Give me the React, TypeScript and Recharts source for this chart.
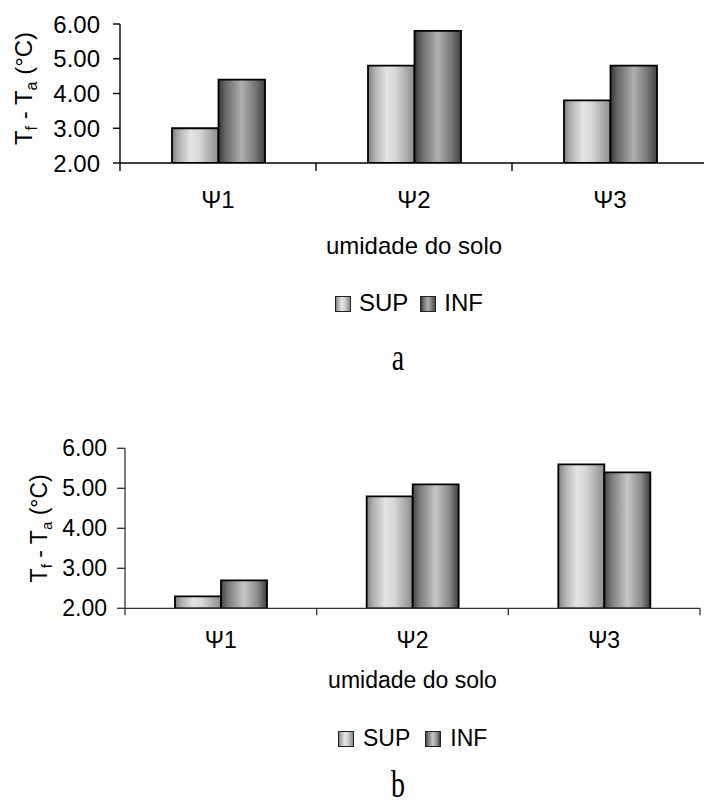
import React from 'react';
import { BarChart, Bar, XAxis, YAxis, Legend } from 'recharts';

const categories = ['Ψ1', 'Ψ2', 'Ψ3'];
const supA = [3.0, 4.8, 3.8];
const infA = [4.4, 5.8, 4.8];
const supB = [2.3, 4.8, 5.6];
const infB = [2.7, 5.1, 5.4];
const yTicks = [2, 3, 4, 5, 6];
const seriesNames = ['SUP', 'INF'];
const xAxisTitle = 'umidade do solo';
const panelLabels = ['a', 'b'];

const SANS = 'Arial, "Liberation Sans", Helvetica, sans-serif';
const SERIF = '"Times New Roman", "Liberation Serif", Times, serif';

type Row = { cat: string; SUP: number; INF: number };
const build = (sup: number[], inf: number[]): Row[] =>
  categories.map((c, i) => ({ cat: c, [seriesNames[0]]: sup[i], [seriesNames[1]]: inf[i] } as Row));

const dataA = build(supA, infA);
const dataB = build(supB, infB);

type Stop = [number, string];

type Cfg = {
  id: string;
  data: Row[];
  top: number;
  width: number;
  height: number;
  marginTop: number;
  marginRight: number;
  yAxisWidth: number;
  xAxisHeight: number;
  fontSize: number;
  axisColor: string;
  axisWidth: number;
  yTickLen: number;
  yLabelRight: number;
  xTickLen: number;
  catBaseline: number;
  titleBaseline: number;
  legendLeft: number;
  legendTop: number;
  legendItemGap: number;
  swatchGap: number;
  yLabelBaselineX: number;
  yLabelShift: number;
  barSize: number;
  barStroke: number;
  supStops: Stop[];
  infStops: Stop[];
  panelLabel: string;
  panelLabelY: number;
};

const supStopsA: Stop[] = [[0, '#7c7c7c'], [0.12, '#aaaaaa'], [0.4, '#e4e4e4'], [0.6, '#d6d6d6'], [1, '#8c8c8c']];
const infStopsA: Stop[] = [[0, '#383838'], [0.15, '#686868'], [0.5, '#afafaf'], [0.8, '#747474'], [1, '#424242']];
const supStopsB: Stop[] = [[0, '#7c7c7c'], [0.12, '#aaaaaa'], [0.4, '#e4e4e4'], [0.6, '#d6d6d6'], [1, '#8c8c8c']];
const infStopsB: Stop[] = [[0, '#444444'], [0.15, '#7a7a7a'], [0.5, '#c6c6c6'], [0.8, '#8a8a8a'], [1, '#3c3c3c']];

const cfgA: Cfg = {
  id: 'a', data: dataA, top: 0, width: 720, height: 330, marginTop: 24, marginRight: 12,
  yAxisWidth: 120, xAxisHeight: 167, fontSize: 24, axisColor: '#000', axisWidth: 1.4,
  yTickLen: 7, yLabelRight: 100, xTickLen: 8, catBaseline: 45, titleBaseline: 91,
  legendLeft: 335, legendTop: 291, legendItemGap: 12, swatchGap: 8,
  yLabelBaselineX: 32, yLabelShift: -5, barSize: 46.5, barStroke: 1.8,
  supStops: supStopsA, infStops: infStopsA, panelLabel: panelLabels[0], panelLabelY: 370,
};

const cfgB: Cfg = {
  id: 'b', data: dataB, top: 420, width: 712, height: 380, marginTop: 28.3, marginRight: 12,
  yAxisWidth: 125, xAxisHeight: 191.7, fontSize: 23, axisColor: '#333', axisWidth: 1.3,
  yTickLen: 8, yLabelRight: 107, xTickLen: 7, catBaseline: 40, titleBaseline: 80,
  legendLeft: 338, legendTop: 306.5, legendItemGap: 15, swatchGap: 9,
  yLabelBaselineX: 47, yLabelShift: 0, barSize: 46, barStroke: 1.8,
  supStops: supStopsB, infStops: infStopsB, panelLabel: panelLabels[1], panelLabelY: 797,
};

const cssGradient = (stops: Stop[]) =>
  `linear-gradient(to right, ${stops.map(([o, c]) => `${c} ${o * 100}%`).join(', ')})`;

const Panel = ({ cfg }: { cfg: Cfg }) => {
  const plotWidth = cfg.width - cfg.marginRight - cfg.yAxisWidth;
  const band = plotWidth / categories.length;
  const half = band / 2;
  const stopsFor = [cfg.supStops, cfg.infStops];

  const CatTick = (props: any) => {
    const { x, y, payload, index } = props;
    return (
      <g>
        {index === 0 && (
          <line x1={x - half} x2={x - half} y1={y} y2={y + cfg.xTickLen} stroke={cfg.axisColor} strokeWidth={cfg.axisWidth} />
        )}
        <line x1={x + half} x2={x + half} y1={y} y2={y + cfg.xTickLen} stroke={cfg.axisColor} strokeWidth={cfg.axisWidth} />
        <text x={x} y={y + cfg.catBaseline} textAnchor="middle" fill="#000" fontSize={cfg.fontSize} fontFamily={SANS}>
          {payload.value}
        </text>
      </g>
    );
  };

  const ValTick = (props: any) => {
    const { x, y, payload } = props;
    return (
      <g>
        <line x1={x - cfg.yTickLen} x2={x} y1={y} y2={y} stroke={cfg.axisColor} strokeWidth={cfg.axisWidth} />
        <text x={cfg.yLabelRight} y={y} dy="0.355em" textAnchor="end" fill="#000" fontSize={cfg.fontSize} fontFamily={SANS}>
          {Number(payload.value).toFixed(2)}
        </text>
      </g>
    );
  };

  const YLabel = (props: any) => {
    const vb = props.viewBox || { x: 0, y: cfg.marginTop, width: cfg.yAxisWidth, height: 0 };
    const cx = vb.x + cfg.yLabelBaselineX;
    const cy = vb.y + vb.height / 2 + cfg.yLabelShift;
    const fs = cfg.fontSize;
    const sub = Math.round(fs * 0.65);
    return (
      <text x={cx} y={cy} transform={`rotate(-90, ${cx}, ${cy})`} textAnchor="middle" fill="#000" fontSize={fs} fontFamily={SANS}>
        <tspan>T</tspan>
        <tspan fontSize={sub} dy={fs * 0.22}>f</tspan>
        <tspan dy={-fs * 0.22}> - T</tspan>
        <tspan fontSize={sub} dy={fs * 0.22}>a</tspan>
        <tspan dy={-fs * 0.22}> (°C)</tspan>
      </text>
    );
  };

  const LegendContent = (props: any) => {
    const present = new Set((props.payload || []).map((p: any) => p.value));
    const items = seriesNames.filter((s) => present.size === 0 || present.has(s));
    return (
      <div style={{ display: 'flex', alignItems: 'flex-start', fontFamily: SANS, fontSize: cfg.fontSize, lineHeight: 1, color: '#000', whiteSpace: 'nowrap' }}>
        {items.map((name, i) => {
          const idx = seriesNames.indexOf(name);
          return (
            <div key={name} style={{ display: 'flex', alignItems: 'flex-start', marginLeft: i === 0 ? 0 : cfg.legendItemGap }}>
              <div
                style={{
                  width: 14,
                  height: 14,
                  marginTop: cfg.fontSize * 0.8465 - 15,
                  marginRight: cfg.swatchGap,
                  border: '1px solid #222',
                  background: cssGradient(stopsFor[idx]),
                }}
              />
              <span>{name}</span>
            </div>
          );
        })}
      </div>
    );
  };

  return (
    <div style={{ position: 'absolute', left: 0, top: cfg.top }}>
      <BarChart
        width={cfg.width}
        height={cfg.height}
        data={cfg.data}
        margin={{ top: cfg.marginTop, right: cfg.marginRight, left: 0, bottom: 0 }}
        barGap={0}
      >
        <defs>
          {[cfg.supStops, cfg.infStops].map((stops, si) => (
            <linearGradient key={si} id={`${seriesNames[si]}-${cfg.id}`} x1="0" y1="0" x2="1" y2="0">
              {stops.map(([o, c], k) => (
                <stop key={k} offset={o} stopColor={c} />
              ))}
            </linearGradient>
          ))}
        </defs>
        <XAxis
          dataKey="cat"
          height={cfg.xAxisHeight}
          tickLine={false}
          tickSize={0}
          tickMargin={0}
          interval={0}
          axisLine={{ stroke: cfg.axisColor, strokeWidth: cfg.axisWidth }}
          tick={<CatTick />}
          label={{ value: xAxisTitle, position: 'insideBottom', offset: cfg.xAxisHeight - cfg.titleBaseline, fill: '#000', fontSize: cfg.fontSize, fontFamily: SANS }}
        />
        <YAxis
          width={cfg.yAxisWidth}
          domain={[yTicks[0], yTicks[yTicks.length - 1]]}
          ticks={yTicks}
          interval={0}
          allowDataOverflow
          tickSize={0}
          tickMargin={0}
          tickLine={false}
          axisLine={{ stroke: cfg.axisColor, strokeWidth: cfg.axisWidth }}
          tick={<ValTick />}
          label={{ content: (p: any) => <YLabel {...p} /> }}
        />
        <Legend
          layout="horizontal"
          verticalAlign="middle"
          align="center"
          wrapperStyle={{ top: cfg.legendTop, left: cfg.legendLeft, width: 'auto' }}
          content={<LegendContent />}
        />
        {seriesNames.map((s) => (
          <Bar
            key={s}
            dataKey={s}
            name={s}
            fill={`url(#${s}-${cfg.id})`}
            stroke="#000"
            strokeWidth={cfg.barStroke}
            barSize={cfg.barSize}
            isAnimationActive={false}
          />
        ))}
      </BarChart>
    </div>
  );
};

export default function App() {
  const cfgs = [cfgA, cfgB];
  return (
    <div style={{ position: 'absolute', left: 0, top: 0, width: 704, height: 805, overflow: 'hidden', background: '#fff' }}>
      {cfgs.map((c) => (
        <Panel key={c.id} cfg={c} />
      ))}
      <svg width={704} height={805} style={{ position: 'absolute', left: 0, top: 0, pointerEvents: 'none' }}>
        {cfgs.map((c) => (
          <text
            key={c.id}
            transform={`translate(398, ${c.panelLabelY}) scale(1, 1.35)`}
            textAnchor="middle"
            fontFamily={SERIF}
            fontSize={28}
            fill="#000"
          >
            {c.panelLabel}
          </text>
        ))}
      </svg>
    </div>
  );
}
